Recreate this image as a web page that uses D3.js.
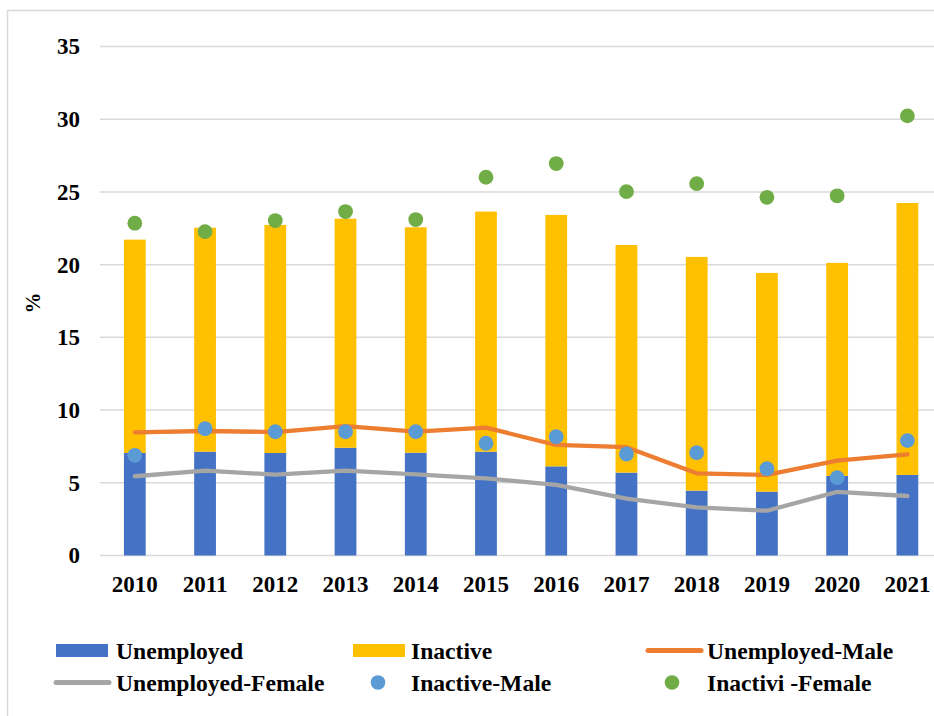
<!DOCTYPE html>
<html>
<head>
<meta charset="utf-8">
<script src="https://cdn.jsdelivr.net/npm/d3@7"></script>
<style>
  body { margin: 0; background: #fff; }
  svg { display: block; font-family: "Liberation Serif", "Times New Roman", serif; font-weight: bold; }
</style>
</head>
<body>
<svg id="chart"></svg>
<script>
const years = ['2010', '2011', '2012', '2013', '2014', '2015', '2016', '2017', '2018', '2019', '2020', '2021'];
const unemployed = [7.05, 7.14, 7.05, 7.41, 7.07, 7.14, 6.13, 5.7, 4.46, 4.39, 5.47, 5.54];
const inactive = [14.67, 15.4, 15.68, 15.75, 15.5, 16.51, 17.29, 15.65, 16.07, 15.04, 14.65, 18.7];
const unempMale = [8.47, 8.56, 8.49, 8.9, 8.52, 8.79, 7.6, 7.45, 5.65, 5.54, 6.52, 6.96];
const unempFemale = [5.45, 5.83, 5.56, 5.83, 5.58, 5.31, 4.85, 3.91, 3.31, 3.08, 4.37, 4.09];
const inactMale = [6.89, 8.72, 8.51, 8.51, 8.51, 7.72, 8.17, 6.98, 7.07, 5.97, 5.35, 7.9];
const inactFemale = [22.85, 22.27, 23.03, 23.65, 23.1, 26.01, 26.95, 25.02, 25.57, 24.63, 24.73, 30.23];
const yTicks = [0, 5, 10, 15, 20, 25, 30, 35];

const width = 934, height = 716;
const svg = d3.select('#chart').attr('width', width).attr('height', height);

// outer frame (runs off the right and bottom edges)
svg.append('rect')
  .attr('x', 7.5).attr('y', 10.5)
  .attr('width', 960).attr('height', 760)
  .attr('fill', 'none').attr('stroke', '#d9d9d9').attr('stroke-width', 1.5);

const x = d3.scaleBand().domain(years).range([99.7, 942.5]).paddingInner(0.69).paddingOuter(0.345);
const y = d3.scaleLinear().domain([0, 35]).range([555.5, 46.5]);

// grid
svg.append('g').selectAll('line')
  .data(yTicks)
  .enter()
  .append('line')
  .attr('x1', 100).attr('x2', 942)
  .attr('y1', d => y(d)).attr('y2', d => y(d))
  .attr('stroke', '#d9d9d9').attr('stroke-width', 1.5);

// y axis labels
const yAxis = d3.axisLeft(y).tickValues(yTicks).tickSize(0).tickPadding(20);
const gy = svg.append('g').attr('transform', 'translate(100,0)').call(yAxis);
gy.select('.domain').remove();
gy.selectAll('text')
  .attr('font-family', '"Liberation Serif", serif')
  .attr('font-weight', 'bold')
  .attr('font-size', 23)
  .attr('fill', '#000');

// x axis labels
const xAxis = d3.axisBottom(x).tickSize(0).tickPadding(0);
const gx = svg.append('g').attr('transform', 'translate(0,574)').call(xAxis);
gx.select('.domain').remove();
gx.selectAll('text')
  .attr('dy', '0.78em')
  .attr('font-family', '"Liberation Serif", serif')
  .attr('font-weight', 'bold')
  .attr('font-size', 23)
  .attr('fill', '#000');

svg.append('text')
  .attr('transform', 'translate(40,303) rotate(-90)')
  .attr('text-anchor', 'middle')
  .attr('font-size', 21)
  .text('%');

// stacked bars
const rows = years.map((yr, i) => ({ year: yr, unemployed: unemployed[i], inactive: inactive[i] }));
const stack = d3.stack().keys(['unemployed', 'inactive'])(rows);
const barColors = { unemployed: '#4472c4', inactive: '#ffc000' };

svg.append('g').selectAll('g')
  .data(stack)
  .enter()
  .append('g')
  .attr('fill', d => barColors[d.key])
  .selectAll('rect')
  .data(d => d)
  .enter()
  .append('rect')
  .attr('x', d => x(d.data.year))
  .attr('width', x.bandwidth())
  .attr('y', d => y(d[1]))
  .attr('height', d => y(d[0]) - y(d[1]));

// lines
const line = d3.line()
  .x((d, i) => x(years[i]) + x.bandwidth() / 2)
  .y(d => y(d));

svg.append('path')
  .attr('d', line(unempFemale))
  .attr('fill', 'none').attr('stroke', '#a5a5a5')
  .attr('stroke-width', 4.3).attr('stroke-linecap', 'round').attr('stroke-linejoin', 'round');

svg.append('path')
  .attr('d', line(unempMale))
  .attr('fill', 'none').attr('stroke', '#ed7d31')
  .attr('stroke-width', 4.3).attr('stroke-linecap', 'round').attr('stroke-linejoin', 'round');

// dots
svg.append('g').selectAll('circle')
  .data(inactMale)
  .enter()
  .append('circle')
  .attr('cx', (d, i) => x(years[i]) + x.bandwidth() / 2)
  .attr('cy', d => y(d))
  .attr('r', 7.4)
  .attr('fill', '#5b9bd5');

svg.append('g').selectAll('circle')
  .data(inactFemale)
  .enter()
  .append('circle')
  .attr('cx', (d, i) => x(years[i]) + x.bandwidth() / 2)
  .attr('cy', d => y(d))
  .attr('r', 7.4)
  .attr('fill', '#70ad47');

// legend
const legendItems = [
  { name: 'Unemployed', type: 'rect', color: '#4472c4', x: 56, y: 650.5, tx: 60 },
  { name: 'Inactive', type: 'rect', color: '#ffc000', x: 353, y: 650.5, tx: 58 },
  { name: 'Unemployed-Male', type: 'line', color: '#ed7d31', x: 647, y: 650.5, tx: 60 },
  { name: 'Unemployed-Female', type: 'line', color: '#a5a5a5', x: 55, y: 682.5, tx: 61 },
  { name: 'Inactive-Male', type: 'dot', color: '#5b9bd5', x: 353, y: 682.5, tx: 58 },
  { name: 'Inactivi -Female', type: 'dot', color: '#70ad47', x: 647, y: 682.5, tx: 60 }
];

const lg = svg.append('g').selectAll('g')
  .data(legendItems)
  .enter()
  .append('g')
  .attr('transform', d => `translate(${d.x},${d.y})`);

lg.filter(d => d.type === 'rect').append('rect')
  .attr('x', 0).attr('y', -6.5).attr('width', 52).attr('height', 13)
  .attr('fill', d => d.color);
lg.filter(d => d.type === 'line').append('line')
  .attr('x1', 1).attr('x2', 54).attr('y1', 0).attr('y2', 0)
  .attr('stroke', d => d.color).attr('stroke-width', 5).attr('stroke-linecap', 'round');
lg.filter(d => d.type === 'dot').append('circle')
  .attr('cx', 25).attr('cy', 0).attr('r', 7.3)
  .attr('fill', d => d.color);

lg.append('text')
  .attr('x', d => d.tx)
  .attr('y', 8.5)
  .attr('font-size', 23.6)
  .attr('fill', '#000')
  .text(d => d.name);
</script>
</body>
</html>
